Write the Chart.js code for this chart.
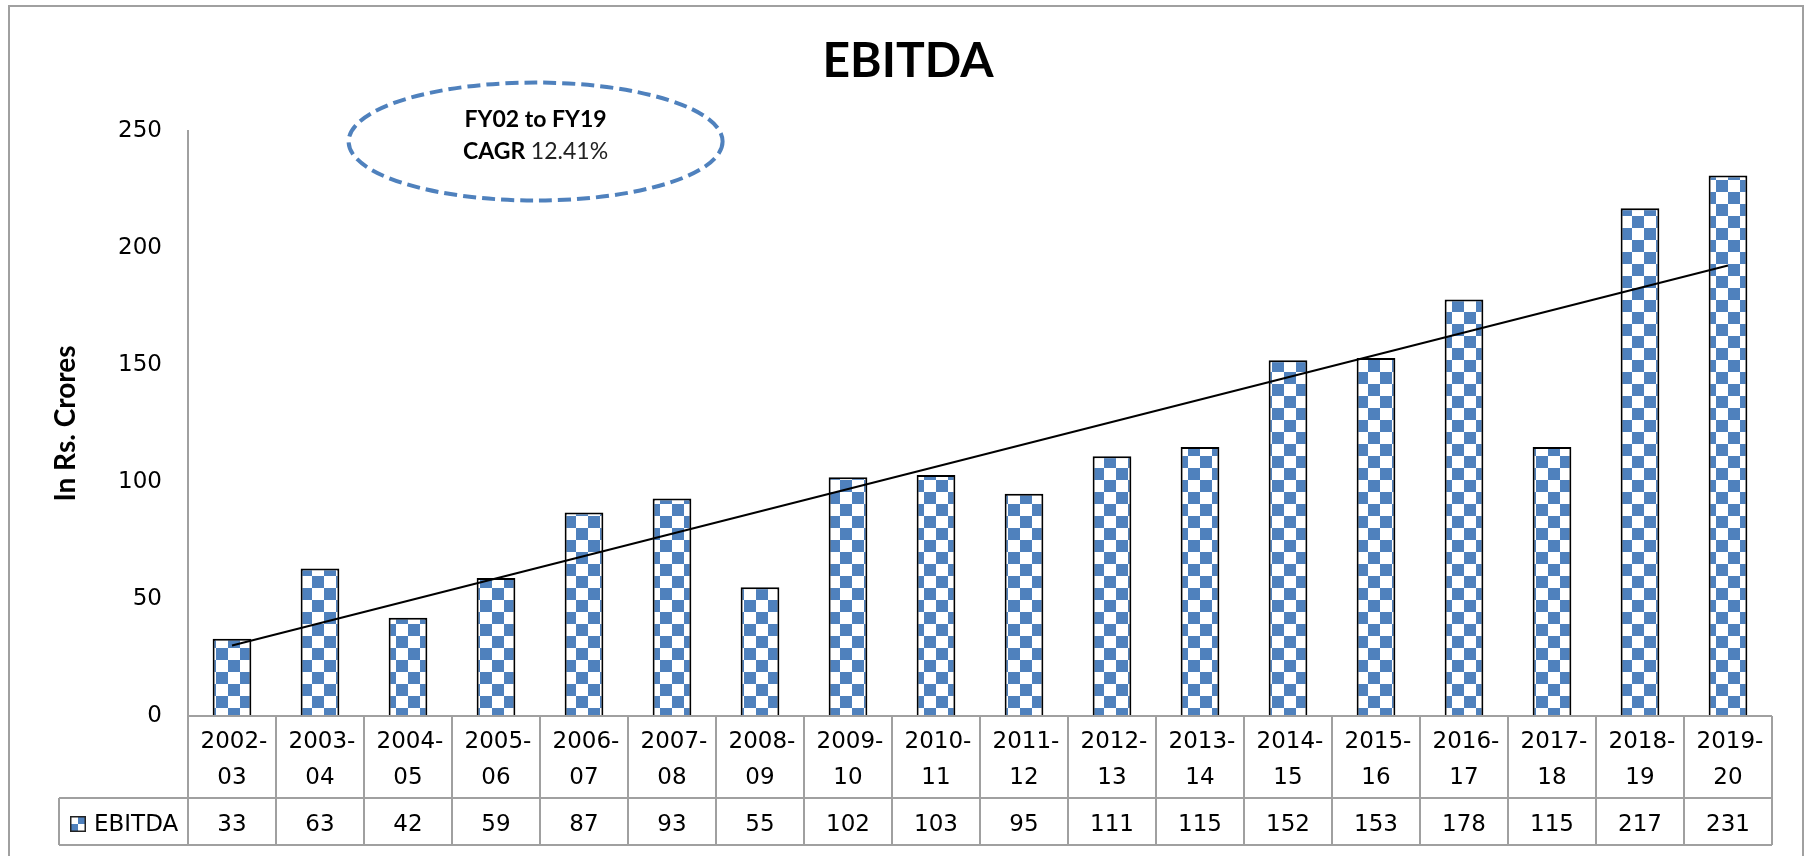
<!DOCTYPE html>
<html>
<head>
<meta charset="utf-8">
<title>EBITDA</title>
<style>
  body { margin: 0; background: #fff; }
  canvas { display: block; }
</style>
</head>
<body>
<canvas id="myChart" width="1806" height="856"></canvas>
<script src="https://cdn.jsdelivr.net/npm/chart.js@4/dist/chart.umd.min.js"></script>
<script>
// data
const years = ['2002-03', '2003-04', '2004-05', '2005-06', '2006-07', '2007-08', '2008-09', '2009-10', '2010-11',
               '2011-12', '2012-13', '2013-14', '2014-15', '2015-16', '2016-17', '2017-18', '2018-19', '2019-20'];
const ebitda = [33, 63, 42, 59, 87, 93, 55, 102, 103, 95, 111, 115, 152, 153, 178, 115, 217, 231];
const trendYears = ['2002-03', '2019-20'];
const trendValues = [30.1, 192.5];
const yTicks = [0, 50, 100, 150, 200, 250];
const noteLines = ['FY02 to FY19', 'CAGR ', '12.41%'];

const BLUE = '#4f81bd';
const GRID = '#a0a0a0';
const HUMAN = "Lato, 'Open Sans', sans-serif";
const SANS = "'DejaVu Sans', sans-serif";

const canvas = document.getElementById('myChart');
const ctx = canvas.getContext('2d');

// checkered fill like the excel pattern
function checker() {
  const c = document.createElement('canvas');
  c.width = 24; c.height = 24;
  const g = c.getContext('2d');
  g.fillStyle = '#fff';
  g.fillRect(0, 0, 24, 24);
  g.fillStyle = BLUE;
  g.fillRect(0, 0, 12, 12);
  g.fillRect(12, 12, 12, 12);
  return ctx.createPattern(c, 'repeat');
}
const pattern = checker();

const frame = {
  id: 'frame',
  beforeDraw(chart) {
    const c = chart.ctx;
    c.save();
    c.fillStyle = '#fff';
    c.fillRect(0, 0, chart.width, chart.height);
    c.strokeStyle = GRID;
    c.lineWidth = 2;
    c.strokeRect(9, 6, 1794, chart.height + 20);
    // chart title
    c.fillStyle = '#000';
    c.font = 'bold 48px ' + HUMAN;
    c.textAlign = 'center';
    c.textBaseline = 'middle';
    c.fillText('EBITDA', 908, 62);
    c.restore();
  }
};

const dataTable = {
  id: 'dataTable',
  afterDraw(chart) {
    const c = chart.ctx, x = chart.scales.x, area = chart.chartArea;
    const top = area.bottom, mid = top + 82, bot = mid + 47, keyLeft = 59;
    const half = (x.getPixelForValue(1) - x.getPixelForValue(0)) / 2;
    c.save();
    c.strokeStyle = GRID;
    c.lineWidth = 2;
    c.beginPath();
    c.moveTo(area.left, top); c.lineTo(area.right, top);
    c.moveTo(keyLeft, mid); c.lineTo(area.right, mid);
    c.moveTo(keyLeft, bot); c.lineTo(area.right, bot);
    c.moveTo(keyLeft, mid); c.lineTo(keyLeft, bot);
    years.forEach((y, i) => {
      const px = x.getPixelForValue(i) - half;
      c.moveTo(px, top); c.lineTo(px, bot);
    });
    c.moveTo(area.right, top); c.lineTo(area.right, bot);
    c.stroke();

    c.fillStyle = '#000';
    c.font = '23px ' + SANS;
    c.textAlign = 'center';
    c.textBaseline = 'middle';
    years.forEach((y, i) => {
      const px = x.getPixelForValue(i);
      const parts = y.split('-');
      c.fillText(parts[0] + '-', px + 2, top + 26);
      c.fillText(parts[1], px, top + 62);
      c.fillText(String(ebitda[i]), px, mid + 27);
    });

    // legend key
    const ky = mid + 26;
    c.save();
    c.translate(70, ky - 8);
    c.fillStyle = BLUE;
    c.fillRect(0, 0, 16, 16);
    c.fillStyle = '#fff';
    c.fillRect(0, 0, 8, 8);
    c.fillRect(8, 8, 8, 8);
    c.strokeStyle = '#222';
    c.lineWidth = 1.5;
    c.strokeRect(0.75, 0.75, 14.5, 14.5);
    c.restore();
    c.fillStyle = '#000';
    c.textAlign = 'left';
    c.fillText('EBITDA', 94, ky + 1);
    c.restore();
  }
};

const note = {
  id: 'note',
  afterDraw(chart) {
    const c = chart.ctx, x = chart.scales.x, y = chart.scales.y;
    const cx = x.getPixelForValue(3.45), cy = y.getPixelForValue(245.5);
    c.save();
    c.strokeStyle = BLUE;
    c.lineWidth = 4;
    c.setLineDash([13, 6]);
    c.beginPath();
    c.ellipse(cx, cy, 187, 59, 0, 0, Math.PI * 2);
    c.stroke();
    c.setLineDash([]);
    c.fillStyle = '#000';
    c.textBaseline = 'middle';
    c.textAlign = 'center';
    c.font = 'bold 23px ' + HUMAN;
    c.fillText(noteLines[0], cx, cy - 22);
    const w1 = c.measureText(noteLines[1]).width;
    c.font = '23px ' + HUMAN;
    const w2 = c.measureText(noteLines[2]).width;
    const left = cx - (w1 + w2) / 2;
    c.textAlign = 'left';
    c.font = 'bold 23px ' + HUMAN;
    c.fillText(noteLines[1], left, cy + 10);
    c.fillStyle = '#222';
    c.font = '23px ' + HUMAN;
    c.fillText(noteLines[2], left + w1, cy + 10);
    c.restore();
  }
};

const chart = new Chart(ctx, {
  type: 'bar',
  data: {
    labels: years,
    datasets: [{
      type: 'line',
      label: 'Trend',
      data: trendYears.map((t, i) => ({ x: t, y: trendValues[i] })),
      borderColor: '#000',
      borderWidth: 2,
      pointRadius: 0,
      order: 0
    }, {
      label: 'EBITDA',
      data: ebitda,
      backgroundColor: pattern,
      borderColor: '#000',
      borderWidth: 2,
      borderSkipped: 'bottom',
      categoryPercentage: 1,
      barPercentage: 0.44,
      order: 1
    }]
  },
  options: {
    responsive: false,
    animation: false,
    layout: { padding: { left: 6, right: 34, top: 131, bottom: 140 } },
    plugins: {
      legend: { display: false },
      tooltip: { enabled: false },
      title: { display: false }
    },
    scales: {
      x: {
        grid: { display: false, drawTicks: false },
        border: { display: false },
        ticks: { display: false },
        afterFit(s) { s.height = 0; }
      },
      y: {
        min: 0,
        max: 250,
        afterBuildTicks(s) { s.ticks = yTicks.map(v => ({ value: v })); },
        afterFit(s) { s.width = 182; },
        grid: { display: false, drawTicks: false },
        border: { display: true, color: GRID, width: 2 },
        ticks: { color: '#000', padding: 26, font: { family: SANS, size: 23 } },
        title: {
          display: true,
          text: 'In Rs. Crores',
          color: '#000',
          font: { family: HUMAN, size: 28, weight: 'bold' },
          padding: { top: 43, bottom: 0 }
        }
      }
    }
  },
  plugins: [frame, dataTable, note]
});
</script>
</body>
</html>
